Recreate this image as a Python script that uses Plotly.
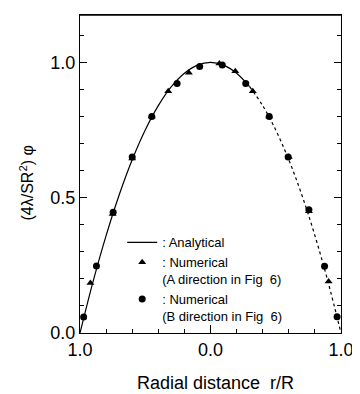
import plotly.graph_objects as go

# Analytical curve
ana_x = [-1.0, -0.9, -0.8, -0.7, -0.6, -0.5, -0.4, -0.3, -0.2, -0.1, 0.0,
         0.1, 0.2, 0.3, 0.4, 0.5, 0.6, 0.7, 0.8, 0.9, 1.0]
ana_y = [0.0, 0.19, 0.36, 0.51, 0.64, 0.75, 0.84, 0.91, 0.96, 0.99, 1.0,
         0.99, 0.96, 0.91, 0.84, 0.75, 0.64, 0.51, 0.36, 0.19, 0.0]
split_idx = 13  # right part printed as a dotted line

# Numerical, A direction (triangles)
a_x = [-0.92, -0.75, -0.60, -0.45, -0.324, -0.166, 0.068, 0.19, 0.324, 0.45, 0.60, 0.754, 0.905]
a_y = [0.185, 0.44, 0.645, 0.80, 0.893, 0.962, 0.996, 0.967, 0.893, 0.80, 0.65, 0.45, 0.19]

# Numerical, B direction (circles)
b_x = [-0.972, -0.874, -0.746, -0.60, -0.45, -0.256, -0.083, 0.09, 0.27, 0.45, 0.595, 0.754, 0.874, 0.97]
b_y = [0.059, 0.248, 0.446, 0.65, 0.80, 0.922, 0.985, 0.99, 0.922, 0.80, 0.65, 0.455, 0.247, 0.06]

x_tickvals = [-1.0, 0.0, 1.0]
x_ticktext = ["1.0", "0.0", "1.0"]
y_tickvals = [0.0, 0.5, 1.0]
y_ticktext = ["0.0", "0.5", "1.0"]

FONT = "Liberation Sans, Arial, sans-serif"

# page body has an 8px margin -> figure sized/placed to compensate
W, H = 352, 386
L, R, T, B = 72, 14, 6, 61
PW, PH = W - L - R, H - T - B


def px(xp):
    return (xp - 8 - L) / PW


def py(yp):
    return (H - B - (yp - 8)) / PH


fig = go.Figure()
fig.add_trace(go.Scatter(
    x=ana_x[:split_idx + 1], y=ana_y[:split_idx + 1], mode="lines",
    line=dict(color="black", width=1.2, shape="spline"),
    name=": Analytical", showlegend=True))
fig.add_trace(go.Scatter(
    x=ana_x[split_idx:], y=ana_y[split_idx:], mode="lines",
    line=dict(color="black", width=1.2, shape="spline", dash="dot"),
    showlegend=False))
fig.add_trace(go.Scatter(
    x=a_x, y=a_y, mode="markers",
    marker=dict(symbol="triangle-up", size=7, color="black"),
    name=": Numerical<br>(A direction in Fig\u00a0 6)"))
fig.add_trace(go.Scatter(
    x=b_x, y=b_y, mode="markers",
    marker=dict(symbol="circle", size=7, color="black"),
    name=": Numerical<br>(B direction in Fig\u00a0 6)"))

fig.update_layout(
    width=W, height=H,
    margin=dict(l=L, r=R, t=T, b=B, pad=0),
    paper_bgcolor="white", plot_bgcolor="white",
    font=dict(family=FONT, color="black"),
    showlegend=True,
    legend=dict(x=px(123), y=py(227), xanchor="left", yanchor="top",
                bgcolor="rgba(0,0,0,0)", font=dict(size=13, family=FONT),
                valign="top", tracegroupgap=0, itemwidth=30),
    xaxis=dict(range=[-1.0, 1.0], tickvals=x_tickvals, ticktext=x_ticktext,
               ticks="inside", ticklen=8, tickwidth=1, tickcolor="black",
               showline=True, linecolor="black", linewidth=1.2, mirror=True,
               showgrid=False, zeroline=False,
               tickfont=dict(size=18, family=FONT),
               minor=dict(dtick=0.2, ticks="inside", ticklen=4, tickcolor="black", showgrid=False)),
    yaxis=dict(range=[0.0, 1.175], tickvals=y_tickvals, ticktext=y_ticktext,
               ticks="inside", ticklen=7, tickwidth=1, tickcolor="black",
               showline=True, linecolor="black", linewidth=1.2, mirror="ticks",
               showgrid=False, zeroline=False,
               tickfont=dict(size=18, family=FONT),
               minor=dict(dtick=0.1, ticks="inside", ticklen=4, tickcolor="black", showgrid=False)),
    shapes=[dict(type="line", xref="paper", yref="paper", x0=0, x1=1, y0=1, y1=1,
                 line=dict(color="black", width=1.5), layer="above")],
    annotations=[
        dict(text="Radial distance\u00a0 r/R", xref="paper", yref="paper",
             x=px(218), y=py(383), xanchor="center", yanchor="middle",
             showarrow=False, font=dict(size=18, family=FONT)),
        dict(text="(4\u03bb/SR<sup>2</sup>) \u03c6", xref="paper", yref="paper",
             x=px(26), y=py(183), xanchor="center", yanchor="middle",
             textangle=-90, showarrow=False, font=dict(size=16, family=FONT)),
    ],
)

fig.write_html("out.html")
